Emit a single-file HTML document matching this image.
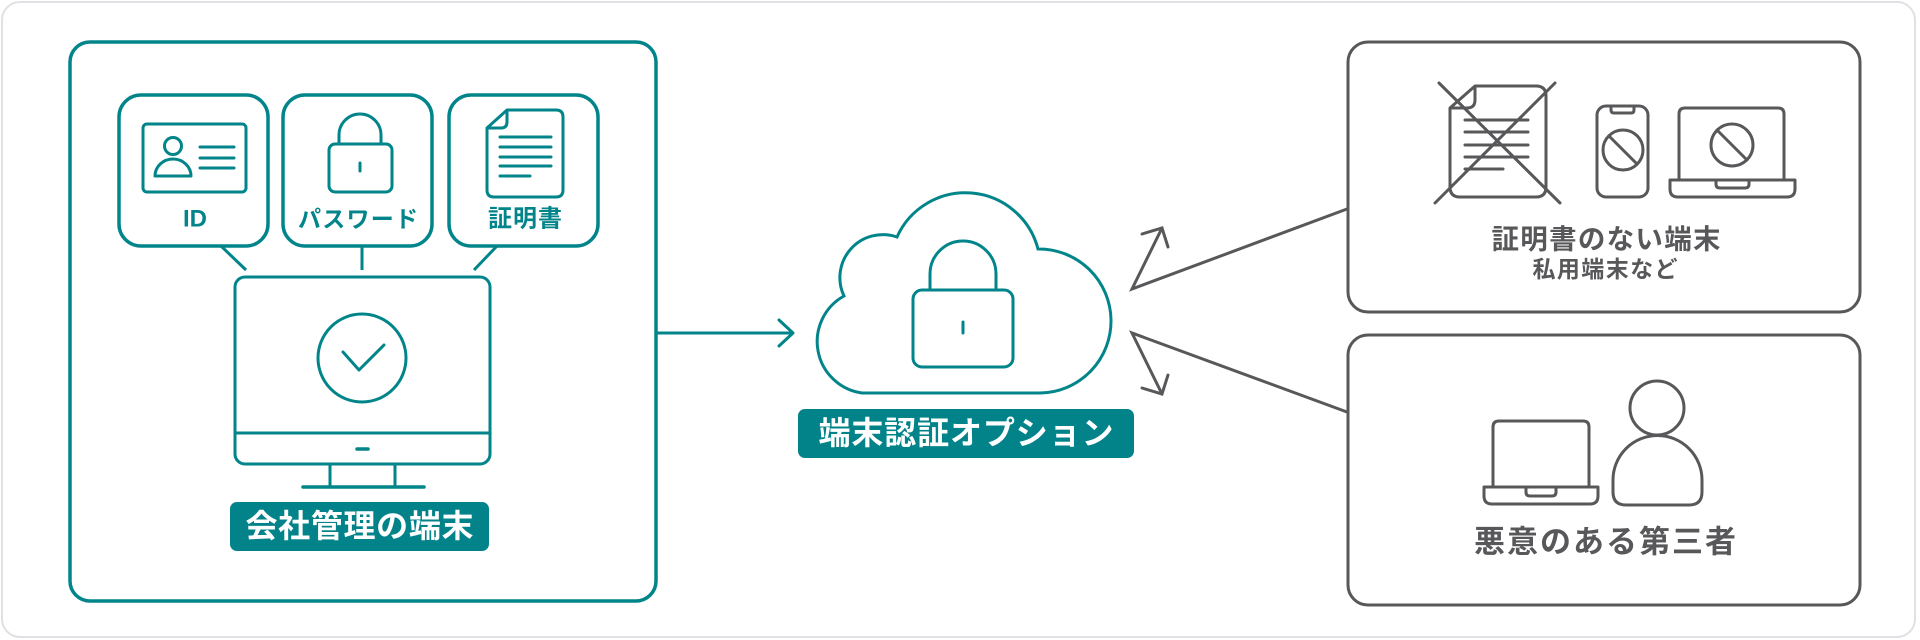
<!DOCTYPE html>
<html>
<head>
<meta charset="utf-8">
<style>
  html, body { margin: 0; padding: 0; background: #ffffff; }
  svg { display: block; }
  text { font-family: "Liberation Sans", "Noto Sans CJK JP", sans-serif; font-weight: 700; }
</style>
</head>
<body>
<svg width="1920" height="640" viewBox="0 0 1920 640" xmlns="http://www.w3.org/2000/svg">
  <!-- outer card -->
  <rect x="2" y="2" width="1913" height="635" rx="18" fill="#ffffff" stroke="#e1e1e5" stroke-width="2"/>

  <!-- ===== LEFT (teal) ===== -->
  <g fill="none" stroke="#02858a" stroke-width="3.5" stroke-linecap="round" stroke-linejoin="round">
    <rect x="70" y="42" width="586" height="559" rx="20"/>
    <rect x="119" y="95" width="149" height="151" rx="22"/>
    <rect x="283" y="95" width="149" height="151" rx="22"/>
    <rect x="449" y="95" width="149" height="151" rx="22"/>
  </g>
  <g fill="none" stroke="#02858a" stroke-width="3" stroke-linecap="butt">
    <line x1="221" y1="246" x2="246" y2="270"/>
    <line x1="362" y1="246" x2="362" y2="270"/>
    <line x1="497" y1="246" x2="474" y2="270"/>
  </g>

  <!-- ID icon -->
  <g fill="none" stroke="#02858a" stroke-width="3" stroke-linecap="round" stroke-linejoin="round">
    <rect x="143" y="124" width="103" height="68" rx="4"/>
    <circle cx="173" cy="146" r="8.5"/>
    <path d="M155 176 A18 17 0 0 1 191 176 Z"/>
    <line x1="200" y1="147" x2="234" y2="147"/>
    <line x1="200" y1="158" x2="234" y2="158"/>
    <line x1="200" y1="168" x2="234" y2="168"/>
  </g>
  <!-- password lock icon -->
  <g fill="none" stroke="#02858a" stroke-width="3" stroke-linecap="round" stroke-linejoin="round">
    <path d="M339 144 V135 A21 21 0 0 1 381 135 V144"/>
    <rect x="329" y="144" width="63" height="48" rx="6"/>
    <line x1="360" y1="163" x2="360" y2="171"/>
  </g>
  <!-- certificate icon -->
  <g fill="none" stroke="#02858a" stroke-width="3" stroke-linecap="round" stroke-linejoin="round">
    <path d="M507 110 H556 Q563 110 563 117 V190 Q563 197 556 197 H494 Q487 197 487 190 V128 Z"/>
    <path d="M507 111 V122 Q507 128 501 128 H488"/>
    <line x1="500" y1="137" x2="551" y2="137"/>
    <line x1="500" y1="147" x2="551" y2="147"/>
    <line x1="500" y1="157" x2="551" y2="157"/>
    <line x1="500" y1="166" x2="551" y2="166"/>
    <line x1="500" y1="176" x2="530" y2="176"/>
  </g>

  <text x="195" y="219" font-size="24" fill="#02858a" text-anchor="middle" dominant-baseline="central">ID</text>
  <text x="358" y="219" font-size="23" fill="#02858a" text-anchor="middle" dominant-baseline="central" textLength="120" lengthAdjust="spacing">パスワード</text>
  <text x="525" y="219" font-size="24" fill="#02858a" text-anchor="middle" dominant-baseline="central" textLength="74" lengthAdjust="spacing">証明書</text>

  <!-- monitor -->
  <g fill="none" stroke="#02858a" stroke-width="3" stroke-linecap="round" stroke-linejoin="round">
    <rect x="235" y="277" width="255" height="187" rx="10"/>
    <line x1="235" y1="433" x2="490" y2="433" stroke-linecap="butt"/>
    <line x1="357" y1="449" x2="368" y2="449" stroke-width="3.5"/>
    <line x1="330" y1="464" x2="330" y2="487" stroke-linecap="butt"/>
    <line x1="395" y1="464" x2="395" y2="487" stroke-linecap="butt"/>
    <line x1="303" y1="487" x2="424" y2="487" stroke-width="3.5"/>
    <circle cx="362" cy="358" r="44"/>
    <polyline points="343,352 359,370 384,345"/>
  </g>

  <rect x="230" y="502" width="259" height="49" rx="7" fill="#02838a"/>
  <text x="359.5" y="526" font-size="32" fill="#ffffff" text-anchor="middle" dominant-baseline="central" textLength="228" lengthAdjust="spacing">会社管理の端末</text>

  <!-- teal arrow to cloud -->
  <g fill="none" stroke="#02858a" stroke-width="3" stroke-linecap="round" stroke-linejoin="round">
    <line x1="656" y1="333" x2="792" y2="333"/>
    <polyline points="779,320 793,333 779,346"/>
  </g>

  <!-- cloud -->
  <g fill="none" stroke="#02858a" stroke-width="3" stroke-linecap="round" stroke-linejoin="round">
    <path d="M862 393 A52 52 0 0 1 844 296 A43 43 0 0 1 897 237 A75 75 0 0 1 1038 249 A72 72 0 0 1 1040 393 Z" stroke-linejoin="miter"/>
    <path d="M930 290 V274 A33 33 0 0 1 996 274 V290"/>
    <rect x="913" y="290" width="100" height="77" rx="9"/>
    <line x1="963" y1="322" x2="963" y2="333"/>
  </g>

  <rect x="798" y="409" width="336" height="49" rx="7" fill="#02838a"/>
  <text x="966" y="433" font-size="32" fill="#ffffff" text-anchor="middle" dominant-baseline="central" textLength="295" lengthAdjust="spacing">端末認証オプション</text>

  <!-- gray arrows -->
  <g fill="none" stroke="#58585b" stroke-width="3" stroke-linecap="round" stroke-linejoin="miter">
    <polyline points="1347,209 1132,289 1162,228"/>
    <polyline points="1142,234 1162,228 1168,247"/>
    <polyline points="1347,412 1132,333 1162,394"/>
    <polyline points="1142,388 1162,394 1168,375"/>
  </g>

  <!-- ===== RIGHT boxes (gray) ===== -->
  <g fill="none" stroke="#58585b" stroke-width="3">
    <rect x="1348" y="42" width="512" height="270" rx="20"/>
    <rect x="1348" y="335" width="512" height="270" rx="20"/>
  </g>

  <!-- crossed document -->
  <g fill="none" stroke="#58585b" stroke-width="3" stroke-linecap="round" stroke-linejoin="round">
    <path d="M1475 86 H1536 Q1546 86 1546 96 V187 Q1546 197 1536 197 H1460 Q1450 197 1450 187 V108 Z"/>
    <path d="M1475 87 V100 Q1475 108 1467 108 H1451"/>
    <line x1="1465" y1="120" x2="1528" y2="120"/>
    <line x1="1465" y1="132" x2="1528" y2="132"/>
    <line x1="1465" y1="145" x2="1528" y2="145"/>
    <line x1="1465" y1="157" x2="1528" y2="157"/>
    <line x1="1465" y1="169" x2="1503" y2="169"/>
    <line x1="1439" y1="83" x2="1560" y2="203"/>
    <line x1="1555" y1="83" x2="1435" y2="203"/>
  </g>
  <!-- phone -->
  <g fill="none" stroke="#58585b" stroke-width="3" stroke-linecap="round" stroke-linejoin="round">
    <rect x="1597" y="106" width="51" height="91" rx="9"/>
    <path d="M1611 106 V110 Q1611 113 1614 113 H1631 Q1634 113 1634 110 V106"/>
    <circle cx="1623" cy="150" r="20"/>
    <line x1="1609" y1="136" x2="1637" y2="164"/>
  </g>
  <!-- laptop with prohibition -->
  <g fill="none" stroke="#58585b" stroke-width="3" stroke-linecap="round" stroke-linejoin="round">
    <path d="M1679 180 V114 Q1679 108 1685 108 H1778 Q1784 108 1784 114 V180"/>
    <path d="M1670 180 H1795 V189 Q1795 197 1787 197 H1678 Q1670 197 1670 189 Z"/>
    <path d="M1716 180 V184 Q1716 188 1720 188 H1745 Q1749 188 1749 184 V180"/>
    <circle cx="1732" cy="145" r="21"/>
    <line x1="1717" y1="130" x2="1747" y2="160"/>
  </g>

  <text x="1606" y="239" font-size="27.5" fill="#58585b" text-anchor="middle" dominant-baseline="central" textLength="229" lengthAdjust="spacing">証明書のない端末</text>
  <text x="1605" y="269" font-size="23" fill="#58585b" text-anchor="middle" dominant-baseline="central" textLength="145" lengthAdjust="spacing">私用端末など</text>

  <!-- bottom right: laptop + person -->
  <g fill="none" stroke="#58585b" stroke-width="3" stroke-linecap="round" stroke-linejoin="round">
    <path d="M1493 487 V427 Q1493 421 1499 421 H1583 Q1589 421 1589 427 V487"/>
    <path d="M1484 487 H1598 V496 Q1598 504 1590 504 H1492 Q1484 504 1484 496 Z"/>
    <path d="M1526 487 V492 Q1526 496 1530 496 H1552 Q1556 496 1556 492 V487"/>
    <circle cx="1657" cy="408" r="27"/>
    <path d="M1613 492 V480 A44.5 44.5 0 0 1 1702 480 V492 Q1702 505 1689 505 H1626 Q1613 505 1613 492 Z"/>
  </g>

  <text x="1605" y="542" font-size="31" fill="#58585b" text-anchor="middle" dominant-baseline="central" textLength="262" lengthAdjust="spacing">悪意のある第三者</text>
</svg>
</body>
</html>
